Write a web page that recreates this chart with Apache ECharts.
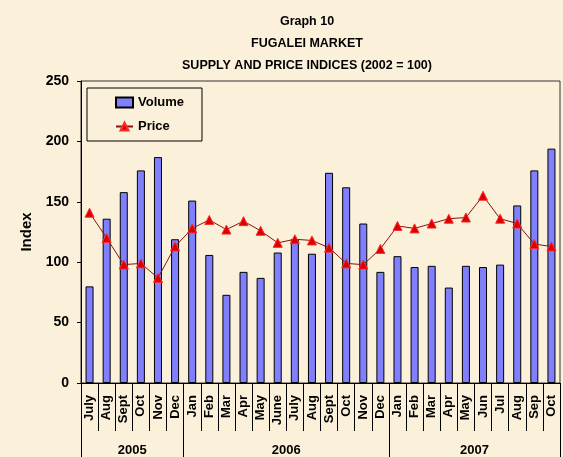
<!DOCTYPE html>
<html>
<head>
<meta charset="utf-8">
<script src="https://cdn.jsdelivr.net/npm/echarts@6/dist/echarts.min.js"></script>
<style>
  html, body { margin: 0; padding: 0; background: #fbf0da; }
  #main { width: 563px; height: 457px; }
</style>
</head>
<body>
<div id="main"></div>
<script>
// months, Jul 2005 - Oct 2007
const months = ['July', 'Aug', 'Sept', 'Oct', 'Nov', 'Dec',
  'Jan', 'Feb', 'Mar', 'Apr', 'May', 'June', 'July', 'Aug', 'Sept', 'Oct', 'Nov', 'Dec',
  'Jan', 'Feb', 'Mar', 'Apr', 'May', 'Jun', 'Jul', 'Aug', 'Sep', 'Oct'];
const volume = [80, 136, 158, 176, 187, 119,
  151, 106, 73, 92, 87, 108, 119, 107, 174, 162, 132, 92,
  105, 96, 97, 79, 97, 96, 98, 147, 176, 194];
const price = [141, 120, 98, 99, 87, 113,
  128, 135, 127, 134, 126, 116, 119, 118, 112, 99, 98, 111,
  130, 128, 132, 136, 137, 155, 136, 132, 115, 113];
// year groups: label position (in month units) and boundaries
const years = ['2005', '2006', '2007'];
const yearCenters = [3, 12, 23];
const yearBounds = [0, 6, 18, 28];

const sans = '"Liberation Sans", Arial, sans-serif';

const chart = echarts.init(document.getElementById('main'));

const option = {
  backgroundColor: '#fbf0da',
  animation: false,
  title: {
    text: 'Graph 10\nFUGALEI MARKET\nSUPPLY AND PRICE INDICES (2002 = 100)',
    left: 302,
    top: 6,
    textAlign: 'center',
    textStyle: {
      fontFamily: sans,
      fontSize: 12.5,
      fontWeight: 'bold',
      color: '#000',
      lineHeight: 22
    }
  },
  legend: {
    orient: 'vertical',
    left: 87,
    top: 88,
    padding: [8, 18, 8, 28],
    itemGap: 11,
    itemWidth: 17,
    itemHeight: 10,
    borderColor: '#000',
    borderWidth: 1,
    textStyle: { fontFamily: sans, fontSize: 13, fontWeight: 'bold', color: '#000' },
    data: [
      { name: 'Volume', icon: 'rect' },
      { name: 'Price' }
    ]
  },
  grid: {
    left: 81,
    right: 3,
    top: 81,
    bottom: 74,
    show: true,
    borderColor: '#333',
    borderWidth: 1
  },
  xAxis: [
    {
      type: 'category',
      data: months,
      boundaryGap: true,
      axisLine: { lineStyle: { color: '#000', width: 1 } },
      axisTick: { show: true, interval: 0, length: 48, lineStyle: { color: '#000' } },
      axisLabel: {
        interval: 0,
        rotate: 90,
        margin: 12,
        color: '#000',
        fontFamily: sans,
        fontSize: 13,
        fontWeight: 'bold'
      }
    },
    {
      type: 'value',
      position: 'bottom',
      min: 0,
      max: 28,
      axisLine: { show: false },
      splitLine: { show: false },
      axisTick: {
        show: true,
        customValues: yearBounds,
        length: 80,
        lineStyle: { color: '#000' }
      },
      axisLabel: {
        customValues: yearCenters,
        margin: 61,
        color: '#000',
        fontFamily: sans,
        fontSize: 13,
        fontWeight: 'bold',
        formatter: (v) => years[yearCenters.indexOf(v)] || ''
      }
    }
  ],
  yAxis: {
    type: 'value',
    min: 0,
    max: 250,
    interval: 50,
    name: 'Index',
    nameLocation: 'middle',
    nameGap: 44,
    nameRotate: 90,
    nameTextStyle: { fontFamily: sans, fontSize: 15, fontWeight: 'bold', color: '#000' },
    axisLine: { show: true, lineStyle: { color: '#000' } },
    axisTick: { show: true, length: 4, lineStyle: { color: '#000' } },
    splitLine: { show: false },
    axisLabel: { margin: 12, color: '#000', fontFamily: sans, fontSize: 14, fontWeight: 'bold' }
  },
  series: [
    {
      name: 'Volume',
      type: 'bar',
      xAxisIndex: 0,
      data: volume,
      barWidth: 8,
      itemStyle: { color: '#8080ff', borderColor: '#000', borderWidth: 1 }
    },
    {
      name: 'Price',
      type: 'line',
      xAxisIndex: 0,
      data: price,
      symbol: 'triangle',
      symbolSize: 9,
      lineStyle: { color: '#8b1010', width: 1 },
      itemStyle: { color: '#d80000', borderColor: '#ff2a2a', borderWidth: 1 }
    }
  ]
};

chart.setOption(option);
</script>
</body>
</html>
